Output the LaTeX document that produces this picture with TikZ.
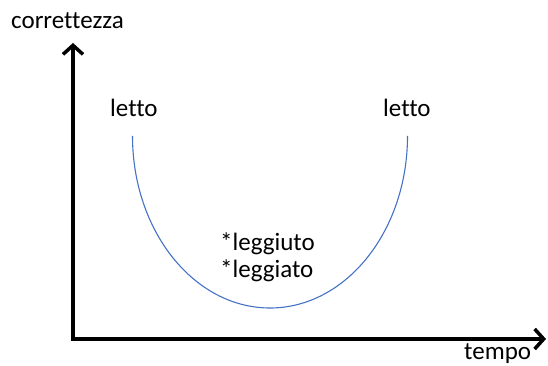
\documentclass[tikz,border=0pt]{standalone}
\usepackage{fontspec}
\setmainfont{Carlito}[Ligatures={NoCommon,NoRequired}]
\usetikzlibrary{arrows.meta}
\definecolor{curveblue}{RGB}{68,114,196}
\tikzset{
  axis/.style={line width=3.5pt, -{Straight Barb[length=9pt,width=20pt]}},
  lbl/.style={inner sep=0pt, anchor=base west, font=\fontsize{25}{30}\selectfont}
}
\begin{document}
\begin{tikzpicture}[x=1pt,y=1pt]
\useasboundingbox (0,0) rectangle (548,366);
\coordinate (O) at (73,27);
\coordinate (ytip) at (73,323);
\coordinate (xtip) at (546,27);
\draw[axis] ([yshift=-1.75pt]O) -- (ytip);
\draw[axis] ([xshift=-1.75pt]O) -- (xtip);
\node[lbl] (ylab) at (11,337) {correttezza};
\node[lbl] (xlab) at (464,6) {tempo};
\node[lbl] (l1) at (110,249) {letto};
\node[lbl] (l2) at (383,249) {letto};
\node[lbl] (w1) at (220,115) {*leggiuto};
\node[lbl] (w2) at (220,88) {*leggiato};
\draw[curveblue, line width=1.1pt] (132.5,230) arc[start angle=180, end angle=360, x radius=137.5, y radius=172];
\end{tikzpicture}
\end{document}
